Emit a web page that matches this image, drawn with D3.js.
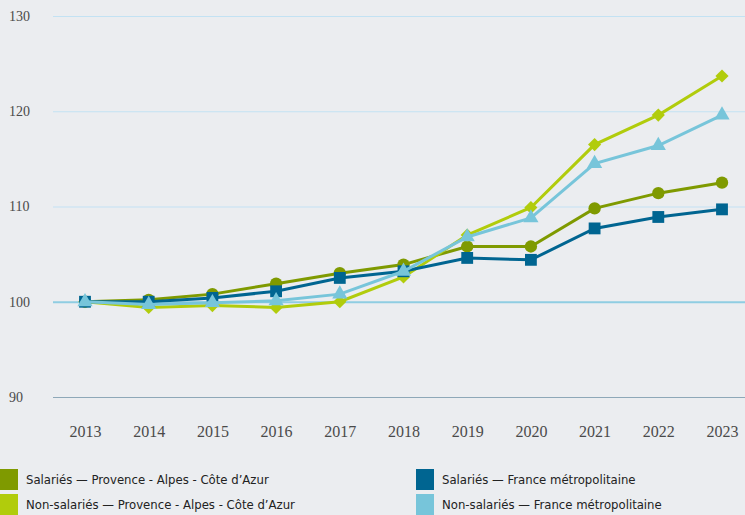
<!DOCTYPE html>
<html lang="fr">
<head>
<meta charset="UTF-8">
<script src="https://d3js.org/d3.v7.min.js"></script>
<style>
  body { margin: 0; background: #ebedf0; }
  svg { display: block; }
  .tick text { font-family: 'Liberation Serif', 'DejaVu Serif', serif; fill: #4a4a4a; }
  .legend text { font-family: 'DejaVu Sans Condensed', 'DejaVu Sans', sans-serif; font-size: 13px; fill: #222; }
</style>
</head>
<body>
<svg width="745" height="515"></svg>
<script>
  // data
  const years = [2013, 2014, 2015, 2016, 2017, 2018, 2019, 2020, 2021, 2022, 2023];
  const salPaca = [100, 100.2, 100.8, 101.9, 103.0, 103.9, 105.8, 105.8, 109.8, 111.4, 112.5];
  const nonSalPaca = [100, 99.4, 99.6, 99.4, 100.0, 102.6, 107.0, 109.9, 116.5, 119.6, 123.7];
  const salFrance = [100, 100.0, 100.4, 101.1, 102.5, 103.2, 104.6, 104.4, 107.7, 108.9, 109.7];
  const nonSalFrance = [100, 99.7, 99.9, 100.1, 100.8, 103.2, 106.8, 108.8, 114.5, 116.4, 119.6];
  const yTicks = [90, 100, 110, 120, 130];

  const series = [
    {name: "Salariés — Provence - Alpes - Côte d’Azur", values: salPaca, color: "#7f9a00", sym: d3.symbolCircle, size: 120},
    {name: "Non-salariés — Provence - Alpes - Côte d’Azur", values: nonSalPaca, color: "#b1cc0c", sym: d3.symbolDiamond2, size: 110},
    {name: "Salariés — France métropolitaine", values: salFrance, color: "#006591", sym: d3.symbolSquare, size: 140},
    {name: "Non-salariés — France métropolitaine", values: nonSalFrance, color: "#77c5da", sym: d3.symbolTriangle, size: 100}
  ];

  const svg = d3.select("svg");
  const x = d3.scalePoint().domain(years).range([85, 722]);
  const y = d3.scaleLinear().domain([90, 130]).range([397, 16]);

  // gridlines + y labels
  const yAxis = svg.append("g")
    .call(d3.axisLeft(y).tickValues(yTicks).tickSize(-692))
    .attr("transform", "translate(53,0)");
  yAxis.select(".domain").remove();
  yAxis.selectAll(".tick line")
    .attr("stroke", d => d == 90 ? "#8ea8b8" : d == 100 ? "#8fcde2" : "#c3e2f3")
    .attr("stroke-width", d => d == 100 ? 2 : 1.2);
  yAxis.selectAll(".tick text").attr("font-size", 14).attr("text-anchor", "start").attr("x", -44);

  // x labels
  const xAxis = svg.append("g")
    .attr("transform", "translate(0,414)")
    .call(d3.axisBottom(x).tickSize(0).tickPadding(12));
  xAxis.select(".domain").remove();
  xAxis.selectAll(".tick text").attr("font-size", 16);

  // lines
  const line = d3.line().x((d, i) => x(years[i])).y(d => y(d));
  series.forEach(s => {
    svg.append("path").datum(s.values)
      .attr("fill", "none").attr("stroke", s.color).attr("stroke-width", 3)
      .attr("d", line);
    svg.append("g").selectAll("path").data(s.values).join("path")
      .attr("d", d3.symbol().type(s.sym).size(s.size))
      .attr("transform", (d, i) => `translate(${x(years[i])},${y(d)})`)
      .attr("fill", s.color);
  });

  // legend
  const legendPos = [[0, 469], [0, 494], [416, 469], [416, 494]];
  const legend = svg.append("g").attr("class", "legend");
  series.forEach((s, i) => {
    const g = legend.append("g").attr("transform", `translate(${legendPos[i]})`);
    g.append("rect").attr("width", 18).attr("height", 21).attr("fill", s.color);
    g.append("text").attr("x", 26).attr("y", 15).text(s.name);
  });
</script>
</body>
</html>
